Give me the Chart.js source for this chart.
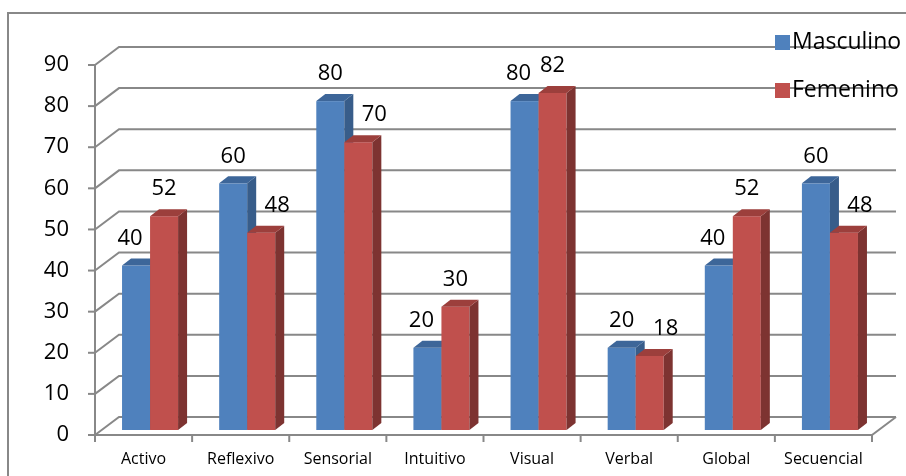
<!DOCTYPE html>
<html lang="es">
<head>
<meta charset="UTF-8">
<title>Estilos de aprendizaje por sexo</title>
<script src="https://cdn.jsdelivr.net/npm/chart.js"></script>
<style>
  html, body { margin: 0; padding: 0; background: #fff; }
  #contenedor { width: 906px; height: 476px; }
</style>
</head>
<body>
<div id="contenedor">
  <canvas id="grafico" width="906" height="476"></canvas>
</div>

<script>
// Datos del gráfico
const categorias = ['Activo', 'Reflexivo', 'Sensorial', 'Intuitivo', 'Visual', 'Verbal', 'Global', 'Secuencial'];
const masculino = [40, 60, 80, 20, 80, 20, 40, 60];
const femenino = [52, 48, 70, 30, 82, 18, 52, 48];
const series = ['Masculino', 'Femenino'];
const ticksY = [0, 10, 20, 30, 40, 50, 60, 70, 80, 90];

// Colores de cada serie: frente, lado, tapa
const colores = [
    { frente: '#4F81BD', lado: '#385D8A', tapa: '#3D6699' },
    { frente: '#C0504D', lado: '#7D3331', tapa: '#9C3F3C' }
];

// Efecto 3D
const PROF = { x: 24, y: -18 };   // profundidad de la pared del fondo
const BARRA = { x: 6.5, y: -5 };  // desplazamiento de las barras sobre el piso
const LADO = { x: 9, y: -7 };     // grosor de cada barra
const GRIS = '#888888';
const FUENTE = '"Open Sans", Lato, sans-serif';

function linea(ctx, puntos) {
    ctx.beginPath();
    ctx.moveTo(puntos[0][0], puntos[0][1]);
    for (let i = 1; i < puntos.length; i++) ctx.lineTo(puntos[i][0], puntos[i][1]);
    ctx.stroke();
}

function poligono(ctx, puntos, color) {
    ctx.beginPath();
    ctx.moveTo(puntos[0][0], puntos[0][1]);
    for (let i = 1; i < puntos.length; i++) ctx.lineTo(puntos[i][0], puntos[i][1]);
    ctx.closePath();
    ctx.fillStyle = color;
    ctx.fill();
}

const grafico3D = {
    id: 'grafico3D',

    // pared del fondo, piso y ejes
    beforeDatasetsDraw(chart) {
        const { ctx, chartArea: a, scales: { x, y } } = chart;
        ctx.save();
        ctx.lineWidth = 2;
        ctx.strokeStyle = GRIS;

        // borde del gráfico
        ctx.strokeRect(8, 13, 940, 500);

        ticksY.forEach(v => {
            const yy = y.getPixelForValue(v);
            linea(ctx, [[a.left, yy], [a.left + PROF.x, yy + PROF.y], [a.right + PROF.x, yy + PROF.y]]);
            linea(ctx, [[a.left - 7, yy], [a.left, yy]]);
        });

        const y0 = y.getPixelForValue(0);
        const yMax = y.getPixelForValue(ticksY[ticksY.length - 1]);
        linea(ctx, [[a.left, yMax], [a.left, y0 + 1]]);
        linea(ctx, [[a.left - 7, y0], [a.right, y0], [a.right + PROF.x, y0 + PROF.y]]);

        // marcas entre categorías
        const medio = (x.getPixelForValue(1) - x.getPixelForValue(0)) / 2;
        for (let i = 0; i <= categorias.length; i++) {
            const xx = i < categorias.length ? x.getPixelForValue(i) - medio : x.getPixelForValue(i - 1) + medio;
            linea(ctx, [[xx, y0], [xx, y0 + 7]]);
        }
        ctx.restore();
    },

    // se dibujan a mano las barras en 3D
    beforeDatasetDraw() {
        return false;
    },

    afterDatasetsDraw(chart) {
        const { ctx } = chart;
        ctx.save();
        categorias.forEach((c, i) => {
            chart.data.datasets.forEach((ds, d) => {
                const el = chart.getDatasetMeta(d).data[i];
                const izq = el.x - el.width / 2 + BARRA.x;
                const der = izq + el.width;
                const arriba = el.y + BARRA.y;
                const abajo = el.base + BARRA.y;
                const col = colores[d];
                ctx.fillStyle = col.frente;
                ctx.fillRect(izq, arriba, der - izq, abajo - arriba);
                poligono(ctx, [[der, arriba], [der + LADO.x, arriba + LADO.y], [der + LADO.x, abajo + LADO.y], [der, abajo]], col.lado);
                poligono(ctx, [[izq, arriba], [izq + LADO.x, arriba + LADO.y], [der + LADO.x, arriba + LADO.y], [der, arriba]], col.tapa);
            });
        });

        // etiquetas de valores
        ctx.font = '22px ' + FUENTE;
        ctx.fillStyle = '#000';
        ctx.textAlign = 'center';
        ctx.textBaseline = 'middle';
        categorias.forEach((c, i) => {
            const m = masculino[i], f = femenino[i];
            chart.data.datasets.forEach((ds, d) => {
                const el = chart.getDatasetMeta(d).data[i];
                let cx = el.x + BARRA.x;
                if (d === 0 && m < f) cx -= 6;
                if (d === 1 && f < m) cx += 16;
                ctx.fillText(String(ds.data[i]), cx, el.y + BARRA.y - 27);
            });
        });
        ctx.restore();
    },

    // leyenda
    afterDraw(chart) {
        const { ctx } = chart;
        ctx.save();
        ctx.font = '23px ' + FUENTE;
        ctx.textAlign = 'left';
        ctx.textBaseline = 'middle';
        series.forEach((s, d) => {
            const yy = 42 + d * 48;
            ctx.fillStyle = colores[d].frente;
            ctx.fillRect(775, yy - 7, 15, 15);
            ctx.fillStyle = '#000';
            ctx.fillText(s, 792, yy);
        });
        ctx.restore();
    }
};

new Chart(document.getElementById('grafico'), {
    type: 'bar',
    data: {
        labels: categorias,
        datasets: [
            { label: series[0], data: masculino, backgroundColor: colores[0].frente },
            { label: series[1], data: femenino, backgroundColor: colores[1].frente }
        ]
    },
    options: {
        responsive: false,
        devicePixelRatio: 1,
        animation: false,
        layout: { padding: { left: 0, right: 34, top: 65, bottom: 0 } },
        datasets: { bar: { categoryPercentage: 0.577, barPercentage: 1 } },
        scales: {
            x: {
                grid: { display: false, drawTicks: false },
                border: { display: false },
                ticks: { color: '#000', font: { family: FUENTE, size: 16 }, padding: 15, maxRotation: 0 },
                afterFit(scale) { scale.height = 41; }
            },
            y: {
                min: 0,
                max: 90,
                grid: { display: false, drawTicks: false },
                border: { display: false },
                ticks: { color: '#000', font: { family: FUENTE, size: 22 }, padding: 26, stepSize: 10 },
                afterFit(scale) { scale.width = 95; }
            }
        },
        plugins: {
            legend: { display: false },
            tooltip: { enabled: false }
        }
    },
    plugins: [grafico3D]
});
</script>
</body>
</html>
